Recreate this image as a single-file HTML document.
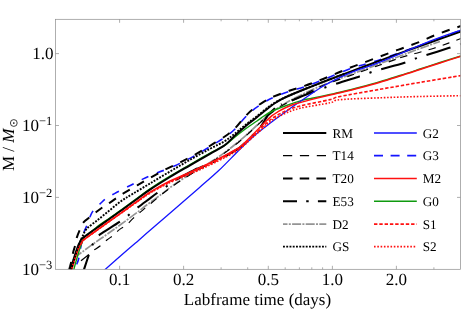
<!DOCTYPE html>
<html><head><meta charset="utf-8"><title>M / Msun vs Labframe time (days)</title>
<style>
html,body{margin:0;padding:0;background:#fff;}
body{width:463px;height:311px;overflow:hidden;font-family:"Liberation Serif",serif;}
svg{display:block;}
text{font-family:"Liberation Serif",serif;fill:#000;text-rendering:geometricPrecision;}
svg{will-change:transform;}
</style></head><body>
<svg width="463" height="311" viewBox="0 0 463 311">
<rect width="463" height="311" fill="#fff"/>
<defs><clipPath id="cp"><rect x="55.5" y="19.3" width="405.0" height="250.0"/></clipPath></defs>

<g clip-path="url(#cp)" stroke-linecap="butt" stroke-linejoin="round">
<path d="M68.3,270.0 C68.9,268.7 70.7,264.3 72.0,262.0 C73.3,259.7 74.7,257.4 76.0,256.0 C77.3,254.6 76.9,255.8 79.7,253.8 C82.5,251.8 88.6,247.2 93.1,244.0 C97.6,240.8 102.1,237.8 106.6,234.6 C111.1,231.4 114.4,229.1 120.0,225.0 C125.6,220.9 135.7,213.6 140.0,210.3 C144.3,207.1 142.3,208.2 146.0,205.5 C149.7,202.8 157.2,197.4 162.0,193.8 C166.8,190.2 170.3,187.2 175.0,184.0 C179.7,180.8 185.8,176.9 190.0,174.3 C194.2,171.7 195.8,171.0 200.0,168.5 C204.2,166.0 210.3,162.4 215.0,159.3 C219.7,156.2 223.8,153.1 228.0,150.0 C232.2,146.9 236.5,143.4 240.0,140.5 C243.5,137.6 246.1,135.1 249.0,132.5 C251.9,129.9 253.7,128.2 257.2,125.0 C260.7,121.8 265.4,117.1 270.0,113.5 C274.6,109.9 280.0,106.5 285.0,103.5 C290.0,100.5 294.2,98.4 300.0,95.5 C305.8,92.6 311.3,89.9 320.0,86.3 C328.7,82.7 343.7,77.2 352.0,74.0 C360.3,70.8 361.7,70.5 370.0,67.4 C378.3,64.3 393.7,58.4 402.0,55.3 C410.3,52.1 413.7,50.8 420.0,48.5 C426.3,46.2 436.7,42.7 440.0,41.5" fill="none" stroke="#949494" stroke-width="1.7" stroke-dasharray="9 1.3 2 1.3"/>
<path d="M81.0,260.8 L88.9,254.5" fill="none" stroke="#000" stroke-width="1.15"/>
<path d="M94.3,249.9 C95.3,249.2 98.2,247.5 100.4,245.8 C102.6,244.1 105.1,241.4 107.2,239.7 C109.3,238.0 111.3,237.1 113.3,235.4 C115.3,233.7 117.3,231.2 119.4,229.6 C121.5,227.9 123.6,227.2 125.8,225.5 C128.0,223.8 130.2,221.1 132.3,219.1 C134.5,217.1 136.1,215.7 138.7,213.5 C141.3,211.3 144.1,209.1 147.8,206.0 C151.5,202.9 156.2,198.8 160.7,195.2 C165.2,191.6 170.1,187.9 175.0,184.5 C179.9,181.1 185.8,177.4 190.0,174.8 C194.2,172.2 195.8,171.5 200.0,169.0 C204.2,166.5 210.3,162.9 215.0,159.8 C219.7,156.7 223.8,153.6 228.0,150.5 C232.2,147.4 236.5,143.9 240.0,141.0 C243.5,138.1 246.1,135.6 249.0,133.0 C251.9,130.4 253.7,128.7 257.2,125.5 C260.7,122.3 265.4,117.6 270.0,114.0 C274.6,110.4 280.0,106.8 285.0,104.0 C290.0,101.2 294.2,99.9 300.0,97.0 C305.8,94.1 311.3,90.4 320.0,86.7 C328.7,83.0 342.0,78.6 352.0,75.0 C362.0,71.4 372.0,67.9 380.0,65.0 C388.0,62.1 396.7,59.0 400.0,57.8" fill="none" stroke="#000" stroke-width="1.15" stroke-dasharray="7.4 7.3" stroke-dashoffset="0"/>
<path d="M400.0,57.8 C402.0,57.2 408.8,55.1 411.8,54.3 C414.8,53.4 414.5,53.7 418.2,52.7 C421.9,51.7 428.9,49.8 434.0,48.2 C439.1,46.6 444.0,44.7 448.5,43.1 C453.0,41.5 458.9,39.3 461.0,38.5" fill="none" stroke="#000" stroke-width="1.15" stroke-dasharray="7.4 7.3" stroke-dashoffset="14.5"/>
<path d="M83.7,270.4 C84.6,267.7 87.5,258.7 89.1,254.2 C90.7,249.7 91.7,246.4 93.1,243.5 C94.5,240.6 96.3,238.4 97.5,236.8 C98.7,235.2 96.6,236.8 100.4,234.2 C104.2,231.6 115.4,224.8 120.2,221.5 C125.0,218.2 126.0,217.1 129.0,214.7 C132.0,212.3 134.7,209.9 138.2,207.2 C141.7,204.5 146.7,200.8 150.0,198.3 C153.3,195.8 155.4,194.2 158.2,192.2 C161.0,190.1 163.9,188.1 167.0,186.0 C170.1,183.9 171.6,182.4 176.6,179.5 C181.6,176.6 193.6,170.2 197.0,168.3" fill="none" stroke="#000" stroke-width="2.1" stroke-dasharray="24.8 10.3 2.1 10.3" stroke-dashoffset="8.7"/>
<path d="M197.0,168.8 C199.2,167.9 205.3,165.7 210.0,163.6 C214.7,161.5 220.8,158.4 225.0,156.2 C229.2,154.0 232.3,152.2 235.0,150.6 C237.7,149.0 238.2,148.9 241.0,146.6 C243.8,144.3 248.0,140.2 251.5,136.6 C255.0,133.0 259.2,128.4 262.0,124.8 C264.8,121.2 265.8,117.8 268.0,115.0 C270.2,112.2 273.8,109.4 275.0,108.3" fill="none" stroke="#000" stroke-width="2.1" stroke-dasharray="24.8 10.3 2.1 10.3" stroke-dashoffset="17.8"/>
<path d="M281.0,104.5 C282.8,103.8 286.6,102.5 291.7,100.5 C296.8,98.5 304.4,95.1 311.8,92.3 C319.2,89.5 328.1,86.4 336.0,83.8 C343.9,81.2 353.8,78.2 359.4,76.4 C365.0,74.6 366.3,73.9 369.8,72.7 C373.3,71.5 374.8,71.0 380.5,69.4 C386.2,67.8 398.1,64.8 403.8,63.0 C409.5,61.2 411.1,60.2 414.7,58.9 C418.3,57.6 419.9,57.2 425.5,55.4 C431.1,53.6 442.6,50.0 448.5,48.1 C454.4,46.2 458.9,44.7 461.0,44.0" fill="none" stroke="#000" stroke-width="2.1" stroke-dasharray="24.8 10.3 2.1 10.3" stroke-dashoffset="36.1"/>
<path d="M73.0,270.0 C73.7,268.8 76.3,265.4 77.4,262.8 C78.5,260.2 78.9,257.6 79.6,254.5 C80.2,251.4 80.8,246.3 81.3,244.0 C81.8,241.7 81.9,242.4 82.4,240.4 C82.9,238.4 83.2,234.7 84.1,232.0 C84.9,229.3 86.5,226.7 87.5,224.1 C88.5,221.5 89.3,218.5 90.3,216.2 C91.3,213.8 91.9,212.2 93.7,210.0 C95.5,207.8 98.9,205.0 101.0,203.0 C103.1,201.0 104.2,199.8 106.5,198.2 C108.8,196.6 110.8,195.6 114.5,193.6 C118.2,191.6 123.8,188.8 128.6,186.3 C133.4,183.9 138.3,181.2 143.2,178.9 C148.1,176.6 154.3,173.9 158.0,172.4 C161.7,170.9 164.2,170.3 165.4,169.9" fill="none" stroke="#1414ff" stroke-width="1.6" stroke-dasharray="7.4 9" stroke-dashoffset="9.892191562156135"/>
<path d="M165.4,170.3 C167.8,169.1 175.2,165.7 180.0,163.3 C184.8,160.9 189.7,158.5 194.5,155.8 C199.3,153.1 205.5,149.4 208.9,147.3 C212.3,145.2 212.1,145.3 215.0,143.5 C217.9,141.7 222.9,138.8 226.3,136.3 C229.7,133.9 232.3,131.8 235.3,128.8 C238.3,125.8 241.5,121.3 244.3,118.3 C247.1,115.3 249.0,113.2 252.2,110.6 C255.4,108.0 260.0,104.9 263.6,102.7 C267.2,100.5 269.7,99.1 274.0,97.2 C278.3,95.3 284.2,93.2 289.3,91.5 C294.4,89.8 299.5,88.4 304.6,86.7 C309.7,85.0 314.7,83.1 319.8,81.1 C324.9,79.1 332.7,75.8 335.3,74.7" fill="none" stroke="#1414ff" stroke-width="1.6" stroke-dasharray="7.4 9" stroke-dashoffset="7.799999999999999"/>
<path d="M335.3,74.7 C337.8,73.7 345.4,70.4 350.5,68.6 C355.6,66.8 360.9,65.5 365.8,64.0 C370.7,62.5 373.5,62.0 380.0,59.8 C386.5,57.6 396.7,53.8 405.0,50.8 C413.3,47.8 420.7,45.2 430.0,41.8 C439.3,38.4 455.8,32.2 461.0,30.3" fill="none" stroke="#1414ff" stroke-width="1.6" stroke-dasharray="7.4 9" stroke-dashoffset="8"/>
<path d="M73.7,270.0 C74.2,268.2 75.6,262.7 76.7,259.0 C77.8,255.3 79.2,250.6 80.1,247.8 C81.0,245.0 81.7,243.6 82.3,242.0 C82.9,240.4 81.3,240.6 83.6,238.2 C85.9,235.8 91.6,231.1 96.0,227.7 C100.4,224.3 105.7,220.8 110.0,217.7 C114.3,214.6 117.7,212.3 122.0,209.2 C126.3,206.1 131.3,202.4 136.0,199.0 C140.7,195.6 144.3,192.6 150.0,188.8 C155.7,185.0 163.3,180.2 170.0,176.2 C176.7,172.1 183.3,168.3 190.0,164.5 C196.7,160.7 204.2,156.4 210.0,153.2 C215.8,150.0 220.8,147.9 225.0,145.2 C229.2,142.5 231.5,139.8 235.0,137.0 C238.5,134.2 242.3,131.2 246.0,128.5 C249.7,125.8 254.0,123.1 257.0,121.0 C260.0,118.9 261.6,117.6 264.0,116.0 C266.4,114.4 268.1,113.2 271.6,111.5 C275.1,109.8 279.9,107.9 285.0,106.0 C290.1,104.1 297.5,101.6 302.0,100.3 C306.5,99.0 307.3,99.2 312.0,98.2 C316.7,97.2 325.3,95.5 330.0,94.5 C334.7,93.5 335.0,93.5 340.0,92.3 C345.0,91.1 353.3,89.1 360.0,87.3 C366.7,85.5 373.3,83.7 380.0,81.7 C386.7,79.7 393.3,77.6 400.0,75.5 C406.7,73.4 413.3,71.2 420.0,69.0 C426.7,66.8 433.2,64.7 440.0,62.5 C446.8,60.3 457.5,57.0 461.0,55.9" fill="none" stroke="#0f9a0f" stroke-width="1.4"/>
<path d="M70.5,270.0 C71.1,268.0 72.8,262.0 74.0,258.0 C75.2,254.0 76.9,248.8 78.0,246.0 C79.1,243.2 79.8,242.3 80.5,241.0 C81.2,239.7 79.8,240.3 82.4,238.2 C85.0,236.1 91.4,231.8 96.0,228.5 C100.6,225.2 105.7,221.6 110.0,218.5 C114.3,215.4 117.7,213.1 122.0,210.0 C126.3,206.9 131.3,203.2 136.0,199.8 C140.7,196.4 144.3,193.4 150.0,189.6 C155.7,185.8 163.3,181.1 170.0,177.0 C176.7,172.9 183.3,169.2 190.0,165.3 C196.7,161.4 204.2,157.2 210.0,153.8 C215.8,150.4 220.8,148.1 225.0,145.0 C229.2,141.9 231.5,138.7 235.0,135.5 C238.5,132.3 242.3,128.8 246.0,125.7 C249.7,122.6 253.5,120.0 257.2,117.0 C260.9,114.0 265.3,110.4 268.4,108.0 C271.5,105.6 273.2,104.2 276.0,102.5 C278.8,100.8 280.7,99.5 285.0,97.5 C289.3,95.5 294.5,93.2 302.0,90.2 C309.5,87.2 321.2,82.7 330.0,79.3 C338.8,75.9 346.7,73.0 355.0,69.9 C363.3,66.8 371.7,63.7 380.0,60.6 C388.3,57.5 396.7,54.4 405.0,51.4 C413.3,48.4 420.7,45.8 430.0,42.5 C439.3,39.2 455.8,33.3 461.0,31.5" fill="none" stroke="#000" stroke-width="2.0"/>
<path d="M104.0,270.5 C105.8,268.9 109.8,265.4 115.0,260.8 C120.2,256.2 129.2,248.5 135.5,243.0 C141.8,237.5 145.3,234.4 153.0,227.8 C160.7,221.2 173.7,209.9 181.4,203.2 C189.1,196.5 193.0,193.2 199.3,187.7 C205.6,182.2 212.2,176.7 219.0,170.3 C225.8,163.9 233.8,155.2 240.0,149.2 C246.2,143.2 250.7,138.9 256.0,134.3 C261.3,129.7 266.7,125.8 272.0,121.7 C277.3,117.7 283.0,113.6 288.0,110.0 C293.0,106.4 297.0,103.7 302.0,100.2 C307.0,96.7 313.5,92.2 318.2,89.2 C322.9,86.2 324.4,85.1 330.0,82.3 C335.6,79.5 343.7,75.5 352.0,72.2 C360.3,68.9 367.0,67.4 380.0,62.2 C393.0,57.0 416.5,46.6 430.0,41.2 C443.5,35.8 455.8,31.9 461.0,30.0" fill="none" stroke="#1414ff" stroke-width="1.3"/>
<path d="M71.5,270.0 C72.1,268.0 73.8,261.8 75.0,258.0 C76.2,254.2 77.9,249.5 79.0,247.0 C80.1,244.5 80.8,244.1 81.5,243.0 C82.2,241.9 80.9,242.2 83.3,240.2 C85.7,238.2 91.5,234.1 96.0,230.9 C100.5,227.7 105.7,224.0 110.0,220.9 C114.3,217.8 117.7,215.5 122.0,212.4 C126.3,209.3 131.3,205.6 136.0,202.2 C140.7,198.8 144.3,195.7 150.0,192.2 C155.7,188.7 163.3,184.3 170.0,181.0 C176.7,177.7 183.3,175.2 190.0,172.2 C196.7,169.2 204.2,165.8 210.0,163.0 C215.8,160.2 220.8,157.7 225.0,155.5 C229.2,153.3 232.3,151.6 235.0,150.0 C237.7,148.4 238.2,148.3 241.0,146.0 C243.8,143.7 248.0,139.5 251.5,136.0 C255.0,132.5 258.6,128.6 262.0,125.2 C265.4,121.8 269.2,118.0 272.0,115.7 C274.8,113.4 276.8,112.5 279.0,111.2 C281.2,109.9 282.5,109.2 285.0,108.0 C287.5,106.8 289.5,105.7 294.0,104.3 C298.5,102.9 306.0,101.0 312.0,99.4 C318.0,97.9 325.3,96.1 330.0,95.0 C334.7,93.9 335.0,94.0 340.0,92.8 C345.0,91.6 353.3,89.6 360.0,87.8 C366.7,86.0 373.3,84.2 380.0,82.2 C386.7,80.2 393.3,78.1 400.0,76.0 C406.7,73.9 413.3,71.7 420.0,69.5 C426.7,67.3 433.2,65.2 440.0,63.0 C446.8,60.8 457.5,57.4 461.0,56.3" fill="none" stroke="#ff1010" stroke-width="1.5"/>
<path d="M71.5,270.0 C72.1,268.0 73.8,261.8 75.0,258.0 C76.2,254.2 77.9,249.5 79.0,247.0 C80.1,244.5 80.8,244.1 81.5,243.0 C82.2,241.9 80.9,242.2 83.3,240.2 C85.7,238.2 91.5,234.1 96.0,230.9 C100.5,227.7 105.7,224.0 110.0,220.9 C114.3,217.8 117.7,215.5 122.0,212.4 C126.4,209.3 131.4,205.7 136.1,202.4 C140.8,199.1 144.4,196.1 150.1,192.6 C155.8,189.2 163.5,184.9 170.2,181.7 C176.9,178.4 183.6,176.1 190.3,173.1 C196.9,170.1 204.4,166.7 210.3,163.9 C216.1,161.1 221.1,158.6 225.3,156.4 C229.4,154.2 232.6,152.5 235.3,150.9 C237.9,149.3 238.6,149.1 241.3,146.9 C244.0,144.7 248.0,140.7 251.5,137.5 C255.0,134.3 258.6,130.7 262.0,127.5 C265.4,124.3 268.2,121.2 272.0,118.5 C275.8,115.8 280.3,113.3 285.0,111.2 C289.7,109.1 292.5,107.9 300.0,106.0 C307.5,104.1 323.3,101.2 330.0,99.6 C336.7,98.0 331.7,98.2 340.0,96.5 C348.3,94.8 366.7,91.6 380.0,89.3 C393.3,87.0 406.5,84.7 420.0,82.4 C433.5,80.1 454.2,76.7 461.0,75.6" fill="none" stroke="#ff1010" stroke-width="1.6" stroke-dasharray="3.4 1.9"/>
<path d="M71.5,270.0 C72.1,268.0 73.8,261.8 75.0,258.0 C76.2,254.2 77.9,249.5 79.0,247.0 C80.1,244.5 80.8,244.1 81.5,243.0 C82.2,241.9 80.9,242.2 83.3,240.2 C85.7,238.2 91.5,234.1 96.0,230.9 C100.5,227.7 105.7,224.0 110.0,220.9 C114.3,217.8 117.7,215.5 122.0,212.5 C126.4,209.4 131.4,205.9 136.1,202.6 C140.8,199.4 144.5,196.4 150.2,193.0 C155.9,189.6 163.7,185.5 170.4,182.3 C177.1,179.1 183.8,176.8 190.5,173.9 C197.2,171.0 204.7,167.5 210.5,164.7 C216.3,161.9 221.3,159.4 225.5,157.2 C229.7,155.0 232.8,153.3 235.5,151.7 C238.2,150.1 238.8,149.9 241.5,147.7 C244.2,145.5 248.1,141.6 251.5,138.5 C254.9,135.4 258.6,132.0 262.0,129.0 C265.4,126.0 268.2,122.9 272.0,120.3 C275.8,117.7 280.3,115.5 285.0,113.5 C289.7,111.5 292.5,110.1 300.0,108.3 C307.5,106.5 323.3,104.2 330.0,102.8 C336.7,101.4 331.7,100.5 340.0,99.7 C348.3,98.9 366.7,98.3 380.0,97.8 C393.3,97.3 406.5,96.8 420.0,96.5 C433.5,96.2 454.2,95.8 461.0,95.7" fill="none" stroke="#ff1010" stroke-width="1.6" stroke-dasharray="1.6 1.7"/>
<path d="M71.0,270.0 C71.6,268.0 73.2,262.0 74.5,258.0 C75.8,254.0 77.4,249.0 78.5,246.0 C79.6,243.0 80.3,241.6 81.0,240.0 C81.7,238.4 81.4,238.4 82.4,236.5 C83.4,234.6 84.3,231.4 86.9,228.6 C89.5,225.8 94.4,222.7 98.2,219.6 C102.0,216.5 106.2,213.1 110.0,210.0 C113.8,206.9 117.5,203.7 121.3,201.0 C125.0,198.3 127.7,196.9 132.5,194.0 C137.3,191.1 143.8,187.2 150.0,183.5 C156.2,179.8 163.3,175.4 170.0,171.5 C176.7,167.6 183.3,163.6 190.0,159.8 C196.7,156.0 204.2,151.9 210.0,148.8 C215.8,145.7 220.8,143.6 225.0,141.0 C229.2,138.4 231.5,136.2 235.0,133.5 C238.5,130.8 242.3,127.4 246.0,124.5 C249.7,121.6 253.5,118.9 257.2,116.0 C260.9,113.1 265.3,109.3 268.4,107.0 C271.5,104.7 273.2,103.6 276.0,102.0 C278.8,100.4 280.7,99.3 285.0,97.3 C289.3,95.3 294.5,93.2 302.0,90.2 C309.5,87.2 322.8,82.0 330.0,79.3 C337.2,76.5 342.5,74.6 345.0,73.7" fill="none" stroke="#000" stroke-width="1.9" stroke-dasharray="1.9 1.35"/>
<path d="M69.5,270.0 C70.1,267.2 72.1,257.0 73.0,253.0 C73.9,249.0 74.4,248.6 75.0,246.0 C75.6,243.4 76.0,240.2 76.8,237.6 C77.6,235.0 78.5,232.8 79.6,230.3 C80.7,227.8 81.8,224.6 83.5,222.4 C85.2,220.2 87.6,219.0 89.7,217.3 C91.8,215.6 93.7,214.0 95.9,212.3 C98.1,210.6 100.7,208.6 103.0,207.0 C105.3,205.4 106.7,204.8 110.0,202.6 C113.3,200.4 118.4,196.5 123.0,193.6 C127.6,190.7 133.1,187.7 137.6,185.1 C142.1,182.5 145.4,180.6 150.0,178.0 C154.6,175.4 160.4,172.1 165.4,169.5 C170.4,166.9 175.2,164.9 180.0,162.5 C184.8,160.1 189.7,157.7 194.5,155.0 C199.3,152.3 205.5,148.6 208.9,146.5 C212.3,144.4 212.1,144.5 215.0,142.7 C217.9,140.9 222.9,137.9 226.3,135.5 C229.7,133.1 232.3,131.0 235.3,128.0 C238.3,125.0 241.5,120.5 244.3,117.5 C247.1,114.5 249.0,112.4 252.2,109.8 C255.4,107.2 260.0,104.1 263.6,101.9 C267.2,99.7 269.7,98.3 274.0,96.4 C278.3,94.5 284.2,92.5 289.3,90.7 C294.4,89.0 299.5,87.6 304.6,85.9 C309.7,84.2 314.7,82.3 319.8,80.3 C324.9,78.3 330.2,76.0 335.3,73.9 C340.4,71.8 345.4,69.5 350.5,67.5 C355.6,65.5 359.5,64.3 365.8,61.9 C372.1,59.5 382.2,55.7 388.5,53.3 C394.8,50.9 398.7,49.6 403.8,47.7 C408.9,45.8 413.8,44.2 419.0,42.1 C424.2,40.0 429.8,37.3 435.0,35.2 C440.2,33.1 446.1,31.0 450.4,29.5 C454.7,28.0 459.2,26.6 461.0,26.0" fill="none" stroke="#000" stroke-width="2.0" stroke-dasharray="8.2 8.2" stroke-dashoffset="16.366682361331087"/>
</g>
<rect x="55.5" y="19.3" width="405.0" height="250.0" fill="none" stroke="#8c8c8c" stroke-width="0.7"/>
<path d="M119.6,269.3 v-3.5 M119.6,19.3 v3.5 M183.6,269.3 v-3.5 M183.6,19.3 v3.5 M268.3,269.3 v-3.5 M268.3,19.3 v3.5 M332.4,269.3 v-3.5 M332.4,19.3 v3.5 M396.4,269.3 v-3.5 M396.4,19.3 v3.5 M221.1,269.3 v-2 M221.1,19.3 v2 M247.7,269.3 v-2 M247.7,19.3 v2 M285.2,269.3 v-2 M285.2,19.3 v2 M299.4,269.3 v-2 M299.4,19.3 v2 M311.8,269.3 v-2 M311.8,19.3 v2 M322.6,269.3 v-2 M322.6,19.3 v2 M433.9,269.3 v-2 M433.9,19.3 v2 M55.5,53.6 h3.5 M460.5,53.6 h-3.5 M55.5,125.5 h3.5 M460.5,125.5 h-3.5 M55.5,197.4 h3.5 M460.5,197.4 h-3.5" stroke="#8c8c8c" stroke-width="0.7" fill="none"/>
<text x="119.6" y="285" font-size="17" text-anchor="middle">0.1</text>
<text x="183.6" y="285" font-size="17" text-anchor="middle">0.2</text>
<text x="268.3" y="285" font-size="17" text-anchor="middle">0.5</text>
<text x="332.4" y="285" font-size="17" text-anchor="middle">1.0</text>
<text x="396.4" y="285" font-size="17" text-anchor="middle">2.0</text>
<text x="53.6" y="59" font-size="17" text-anchor="end">1.0</text>
<text x="52.3" y="131.1" font-size="17" text-anchor="end">10<tspan font-size="12.5" dy="-6.3">−1</tspan></text>
<text x="52.3" y="203.0" font-size="17" text-anchor="end">10<tspan font-size="12.5" dy="-6.3">−2</tspan></text>
<text x="52.3" y="274.9" font-size="17" text-anchor="end">10<tspan font-size="12.5" dy="-6.3">−3</tspan></text>
<text x="257.5" y="305" font-size="17" text-anchor="middle">Labframe time (days)</text>
<g transform="translate(14.2,171) rotate(-90)"><text x="0" y="0" font-size="17">M / <tspan font-style="italic">M</tspan></text><circle cx="48" cy="-0.4" r="3.4" fill="none" stroke="#000" stroke-width="0.75"/><circle cx="48" cy="-0.4" r="0.85" fill="#000"/></g>
<path d="M283,133.0 H326.3" fill="none" stroke="#000" stroke-width="2.0"/>
<text x="332.5" y="137.6" font-size="13.2">RM</text>
<path d="M283,155.6 H326.3" fill="none" stroke="#000" stroke-width="1.15" stroke-dasharray="9.2 7.7"/>
<text x="332.5" y="160.2" font-size="13.2">T14</text>
<path d="M283,178.6 H326.3" fill="none" stroke="#000" stroke-width="2.0" stroke-dasharray="9.5 7.2"/>
<text x="332.5" y="183.2" font-size="13.2">T20</text>
<path d="M283,201.2 H326.3" fill="none" stroke="#000" stroke-width="2.1" stroke-dasharray="14 9.2 2.5 9.2"/>
<text x="332.5" y="205.8" font-size="13.2">E53</text>
<path d="M283,224.1 H326.3" fill="none" stroke="#949494" stroke-width="1.7" stroke-dasharray="9 1.3 2 1.3" stroke-dashoffset="4.5"/>
<text x="332.5" y="228.7" font-size="13.2">D2</text>
<path d="M283,246.6 H326.3" fill="none" stroke="#000" stroke-width="1.9" stroke-dasharray="1.9 1.35"/>
<text x="332.5" y="251.2" font-size="13.2">GS</text>
<path d="M374,133.0 H416.8" fill="none" stroke="#1414ff" stroke-width="1.3"/>
<text x="422.7" y="137.6" font-size="13.2">G2</text>
<path d="M374,155.6 H416.8" fill="none" stroke="#1414ff" stroke-width="1.6" stroke-dasharray="9 7.6"/>
<text x="422.7" y="160.2" font-size="13.2">G3</text>
<path d="M374,178.6 H416.8" fill="none" stroke="#ff1010" stroke-width="1.5"/>
<text x="422.7" y="183.2" font-size="13.2">M2</text>
<path d="M374,201.2 H416.8" fill="none" stroke="#0f9a0f" stroke-width="1.4"/>
<text x="422.7" y="205.8" font-size="13.2">G0</text>
<path d="M374,224.1 H416.8" fill="none" stroke="#ff1010" stroke-width="1.6" stroke-dasharray="3.4 1.9"/>
<text x="422.7" y="228.7" font-size="13.2">S1</text>
<path d="M374,246.6 H416.8" fill="none" stroke="#ff1010" stroke-width="1.6" stroke-dasharray="1.6 1.7"/>
<text x="422.7" y="251.2" font-size="13.2">S2</text>
</svg></body></html>
